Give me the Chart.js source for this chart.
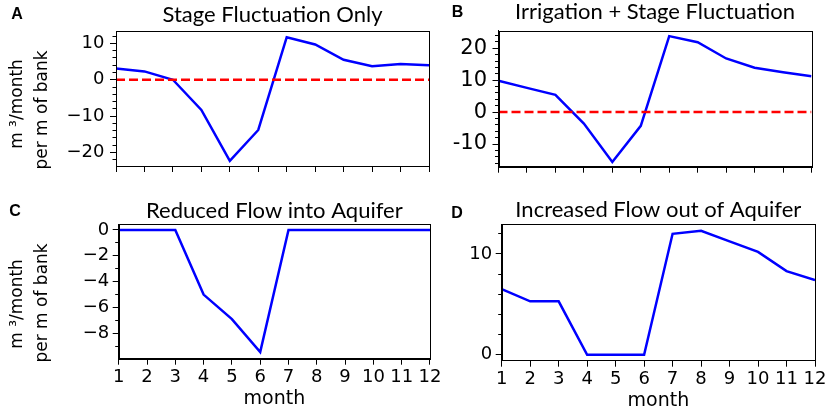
<!DOCTYPE html>
<html lang="en">

<head>
    <meta charset="UTF-8">
    <meta name="viewport" content="width=device-width, initial-scale=1.0">
    <title>Bank flow by month</title>
    <style>
        body { margin: 0; background: #fff; }
        #wrap { position: relative; width: 829px; height: 412px; }
        #wrap canvas { position: absolute; left: 0; top: 0; }
    </style>
</head>

<body>

    <div id="wrap">
        <canvas id="chartA" width="829" height="412"></canvas>
        <canvas id="chartB" width="829" height="412"></canvas>
        <canvas id="chartC" width="829" height="412"></canvas>
        <canvas id="chartD" width="829" height="412"></canvas>
    </div>

    <script src="https://cdn.jsdelivr.net/npm/chart.js"></script>

    <script>
        // values, m3/month per m of bank
        const months = [1, 2, 3, 4, 5, 6, 7, 8, 9, 10, 11, 12];
        const stageOnly = [3.1, 2.3, 0, -8.3, -22.3, -13.8, 11.7, 9.7, 5.5, 3.7, 4.3, 4.0];
        const irrigationStage = [9.8, 7.6, 5.4, -3.6, -15.6, -4.3, 23.8, 21.9, 16.8, 13.9, 12.5, 11.2];
        const reducedInflow = [0, 0, 0, -5.0, -6.9, -9.45, 0, 0, 0, 0, 0, 0];
        const increasedOutflow = [6.5, 5.3, 5.3, 0, 0, 0, 12.0, 12.3, 11.25, 10.2, 8.3, 7.4];
        const zeroLine = [0, 0, 0, 0, 0, 0, 0, 0, 0, 0, 0, 0];

        const panelTitles = ["Stage Fluctuation Only", "Irrigation + Stage Fluctuation",
            "Reduced Flow into Aquifer", "Increased Flow out of Aquifer"];
        const panelLetters = ["A", "B", "C", "D"];
        const yLabelLines = ["m \u00b3/month", "per m of bank"];
        const xLabel = "month";

        const tickFont = "DejaVu Sans";

        // letters, y label, frame round the plot
        const panelText = {
            id: 'panelText',
            afterDraw(chart, args, o) {
                const ctx = chart.ctx;
                const a = chart.chartArea;
                ctx.save();
                ctx.strokeStyle = '#000';
                ctx.lineWidth = 1;
                ctx.strokeRect(Math.round(a.left) + 0.5, Math.round(a.top) + 0.5,
                    Math.round(a.right - a.left), Math.round(a.bottom - a.top));
                ctx.fillStyle = '#000';
                ctx.textAlign = 'center';
                ctx.textBaseline = 'middle';
                ctx.font = 'bold 16px "Liberation Sans", Arial, sans-serif';
                ctx.fillText(o.letter, o.letterX, o.letterY);
                if (o.yLabel) {
                    ctx.font = '17px "' + tickFont + '"';
                    const mid = (a.top + a.bottom) / 2;
                    o.yLabel.forEach((line, i) => {
                        ctx.save();
                        ctx.translate(o.yLabelX[i], mid + o.yLabelDy[i]);
                        ctx.rotate(-Math.PI / 2);
                        ctx.fillText(line, 0, 0);
                        ctx.restore();
                    });
                }
                ctx.restore();
            }
        };

        function pts(vals) {
            return months.map((m, i) => ({ x: m, y: vals[i] }));
        }

        function makePanel(id, p) {
            const datasets = [];
            if (p.zero) {
                datasets.push({
                    data: pts(zeroLine),
                    borderColor: '#ff0000',
                    borderWidth: 2.5,
                    borderDash: [9, 4],
                    pointRadius: 0
                });
            }
            datasets.push({
                data: pts(p.values),
                borderColor: '#0000ff',
                borderWidth: 2.5,
                pointRadius: 0,
                tension: 0
            });

            const minus = p.longMinus ? '\u2212' : '-';

            new Chart(document.getElementById(id), {
                type: 'line',
                data: { datasets: datasets },
                plugins: [panelText],
                options: {
                    responsive: false,
                    animation: false,
                    events: [],
                    layout: { padding: p.pad },
                    plugins: {
                        legend: { display: false },
                        tooltip: { enabled: false },
                        title: {
                            display: true,
                            text: p.title,
                            fullSize: false,
                            color: '#000',
                            font: { family: 'Lato', size: 22, weight: 'normal', lineHeight: 1 },
                            padding: { top: 0, bottom: p.titleGap }
                        },
                        panelText: {
                            letter: p.letter, letterX: p.letterX, letterY: p.letterY,
                            yLabel: p.yLabel ? yLabelLines : null,
                            yLabelX: [18, 43], yLabelDy: p.yLabelDy
                        }
                    },
                    scales: {
                        x: {
                            type: 'linear',
                            min: 1,
                            max: 12,
                            afterFit: s => { s.height = p.xHeight; },
                            border: { display: true, color: '#000' },
                            grid: { drawOnChartArea: false, tickLength: 6, color: '#000' },
                            ticks: {
                                display: p.xTicks,
                                stepSize: 1,
                                autoSkip: false,
                                maxRotation: 0,
                                minRotation: 0,
                                padding: 2,
                                color: '#000',
                                font: { family: tickFont, size: 18 }
                            },
                            title: {
                                display: p.xTicks,
                                text: xLabel,
                                color: '#000',
                                padding: 0,
                                font: { family: tickFont, size: 19, lineHeight: 1.2 }
                            }
                        },
                        y: {
                            min: p.yMin,
                            max: p.yMax,
                            afterFit: s => { s.width = 60; },
                            border: { display: true, color: '#000' },
                            grid: { drawOnChartArea: false, tickLength: 6, color: '#000' },
                            ticks: {
                                stepSize: p.yStep,
                                includeBounds: false,
                                padding: p.yPad,
                                color: '#000',
                                font: { family: tickFont, size: p.yFont },
                                callback: v => String(v).replace('-', minus)
                            }
                        },
                        yMinor: {
                            position: 'left',
                            weight: -1,
                            min: p.yMin,
                            max: p.yMax,
                            afterFit: s => { s.width = 0; },
                            border: { display: false },
                            grid: { drawOnChartArea: false, tickLength: 3.5, color: '#000' },
                            ticks: { display: false, stepSize: p.yMinorStep, includeBounds: false }
                        }
                    }
                }
            });
        }

        // chart area targets: A 116-429 x 31-166, B 498.5-811.5 x 30.7-166.7,
        // C 118.7-430 x 224-358.7, D 501.7-815 x 224.3-360.7
        makePanel('chartA', {
            title: panelTitles[0], letter: panelLetters[0], letterX: 17, letterY: 15,
            values: stageOnly, zero: true, longMinus: true, yLabel: true, yLabelDy: [5.5, 11.5],
            yMin: -23.7, yMax: 13.4, yStep: 10, yMinorStep: 2, yFont: 18, yPad: 5.5,
            xTicks: false, xHeight: 8, titleGap: 5,
            pad: { left: 56, right: 829 - 429, top: 4, bottom: 412 - 166 - 8 }
        });
        makePanel('chartB', {
            title: panelTitles[1], letter: panelLetters[1], letterX: 457.5, letterY: 13,
            values: irrigationStage, zero: true, longMinus: false, yLabel: false,
            yMin: -17.1, yMax: 25.5, yStep: 10, yMinorStep: 2, yFont: 21, yPad: 5.5,
            xTicks: false, xHeight: 8, titleGap: 7.5,
            pad: { left: 438.5, right: 829 - 811.5, top: 1.2, bottom: 412 - 166.7 - 8 }
        });
        makePanel('chartC', {
            title: panelTitles[2], letter: panelLetters[2], letterX: 15, letterY: 212,
            values: reducedInflow, zero: false, longMinus: true, yLabel: true, yLabelDy: [12.6, 11.6],
            yMin: -9.96, yMax: 0.46, yStep: 2, yMinorStep: 1, yFont: 18, yPad: 3.5,
            xTicks: true, xHeight: 52, titleGap: 2,
            pad: { left: 58.7, right: 829 - 430, top: 200, bottom: 412 - 358.7 - 52 }
        });
        makePanel('chartD', {
            title: panelTitles[3], letter: panelLetters[3], letterX: 457, letterY: 214,
            values: increasedOutflow, zero: false, longMinus: false, yLabel: false,
            yMin: -0.59, yMax: 12.94, yStep: 10, yMinorStep: 2, yFont: 18, yPad: 3.5,
            xTicks: true, xHeight: 52, titleGap: 3.3,
            pad: { left: 441.7, right: 829 - 815, top: 199, bottom: 412 - 360.7 - 52 }
        });
    </script>
</body>

</html>
